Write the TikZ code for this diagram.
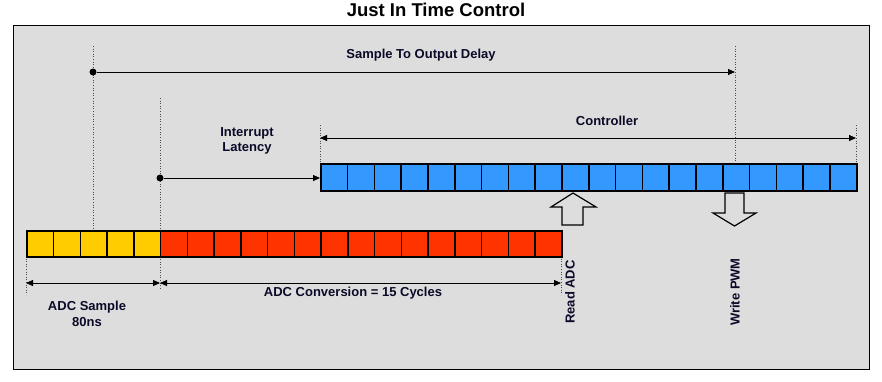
\documentclass[tikz,border=0pt]{standalone}
\usepackage{fontspec}
\setmainfont{Liberation Sans}
\usetikzlibrary{positioning}
\usetikzlibrary{arrows.meta}

\definecolor{panelgray}{HTML}{DDDDDD}
\definecolor{sampleyellow}{HTML}{FFCC00}
\definecolor{convred}{HTML}{FF3300}
\definecolor{ctrlblue}{HTML}{3399FF}
\definecolor{labelnavy}{HTML}{0A0A28}

\tikzset{
  cell/.style={draw, line width=1.6pt, minimum width=26.75pt, minimum height=26pt, inner sep=0pt, anchor=north west},
  guide/.style={dotted, line width=0.6pt, black!70},
  timing/.style={line width=0.8pt, -{Triangle[length=7pt,width=6pt]}},
  span/.style={line width=0.8pt, {Triangle[length=7pt,width=6pt]}-{Triangle[length=7pt,width=6pt]}},
  lbl/.style={font=\bfseries\fontsize{13}{15.5}\selectfont, text=labelnavy, align=center},
  dot/.style={circle, fill, inner sep=0pt, minimum size=7pt},
  hollow/.style={draw, line width=1.2pt, fill=panelgray}
}

\begin{document}
\begin{tikzpicture}[x=1pt,y=-1pt]
\useasboundingbox (0,0) rectangle (882,381);
\draw[fill=panelgray, line width=1pt] (13,25) rectangle (869,369);

\node[font=\bfseries\fontsize{18.5}{20}\selectfont] (title) at (436,10) {Just In Time Control};

% guide lines
\coordinate (g1) at (93,46);
\coordinate (g2) at (160,98);
\coordinate (g2b) at (160,290);
\coordinate (g3) at (320,125);
\coordinate (g4) at (735,46);
\coordinate (g5) at (856,125);
\coordinate (g6) at (26,295);
\coordinate (g7) at (561,295);
\draw[guide] (g1) -- (93,230);
\draw[guide] (g2) -- (g2b);
\draw[guide] (g3) -- (320,163);
\draw[guide] (g4) -- (735,163);
\draw[guide] (g5) -- (856,163);
\draw[guide] (26,256) -- (g6);
\draw[guide] (561,256) -- (g7);

% adc bar
\foreach \i in {0,...,4}
  \node[cell, fill=sampleyellow] (s\i) at (26+\i*26.75,230) {};
\foreach \i in {5,...,19}
  \node[cell, fill=convred] (s\i) at (26+\i*26.75,230) {};

% controller bar
\foreach \i in {0,...,19}
  \node[cell, fill=ctrlblue, minimum width=26.8pt, minimum height=27pt] (c\i) at (320+\i*26.8,163) {};

% timing arrows
\node[dot] (d1) at (93,72) {};
\node[dot] (d2) at (160,178) {};
\coordinate (delayend) at (735,72);
\coordinate (ctlL) at (320,138);
\coordinate (ctlR) at (856,138);
\coordinate (smpL) at (26,283);
\coordinate (smpM) at (160,283);
\coordinate (smpR) at (561,283);
\draw[timing] (d1) -- (delayend);
\draw[timing] (d2) -- (d2 -| c0.west);
\draw[span] (ctlL) -- (ctlR);
\draw[span] (smpL) -- (smpM);
\draw[span] (smpM) -- (smpR);

% read / write markers
\draw[hollow] (573,193) -- (596,207) -- (583,207) -- (583,225) -- (562,225) -- (562,207) -- (551,207) -- cycle;
\draw[hollow] (725,193) -- (744,193) -- (744,213) -- (756,213) -- (734.5,226) -- (713,213) -- (725,213) -- cycle;

% labels
\node[lbl] (delay) at (421,55) {Sample To Output Delay};
\node[lbl] (ctl) at (607,121) {Controller};
\node[lbl] (irq) at (247,141) {Interrupt\\Latency};
\node[lbl] (sample) at (87,314) {ADC Sample\\80ns};
\node[lbl] (conv) at (353,293) {ADC Conversion = 15 Cycles};
\node[lbl, rotate=90] (rd) at (570,292) {Read ADC};
\node[lbl, rotate=90] (wr) at (735,292) {Write PWM};
\end{tikzpicture}
\end{document}
